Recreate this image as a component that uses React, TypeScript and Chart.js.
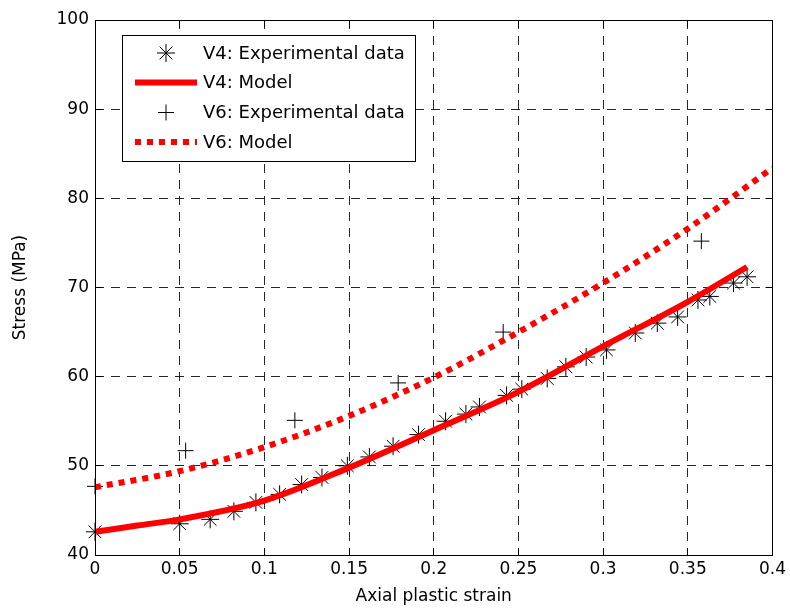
import React, { useEffect, useRef } from 'react';
import { Chart, registerables } from 'chart.js';

Chart.register(...registerables);

// ---------------- data ----------------
const V4_EXP_X = [0, 0.050, 0.068, 0.082, 0.095, 0.109, 0.122, 0.134, 0.149, 0.162, 0.176, 0.191, 0.207, 0.219, 0.227, 0.243, 0.252, 0.267, 0.278, 0.290, 0.302, 0.319, 0.332, 0.344, 0.356, 0.363, 0.377, 0.385];
const V4_EXP_Y = [42.6, 43.5, 44.0, 44.9, 45.9, 46.8, 47.9, 48.7, 50.0, 51.0, 52.2, 53.5, 55.0, 55.8, 56.6, 57.9, 58.6, 59.8, 61.1, 62.2, 63.0, 64.9, 66.0, 66.7, 68.6, 69.0, 70.5, 71.2];

const V6_EXP_X = [0, 0.0535, 0.118, 0.179, 0.241, 0.358];
const V6_EXP_Y = [47.7, 51.7, 55.1, 59.3, 65.0, 75.2];

const V4_MODEL_X = [0, 0.025, 0.05, 0.1, 0.15, 0.2, 0.25, 0.3, 0.35, 0.385];
const V4_MODEL_Y = [42.6, 43.3, 44.0, 46.1, 49.8, 54.0, 58.3, 63.4, 68.4, 72.3];

const V6_MODEL_X = [0, 0.05, 0.1, 0.15, 0.2, 0.25, 0.3, 0.35, 0.4];
const V6_MODEL_Y = [47.6, 49.4, 52.1, 55.6, 59.9, 65.0, 70.5, 76.6, 83.4];

const X_TICKS = [0, 0.05, 0.1, 0.15, 0.2, 0.25, 0.3, 0.35, 0.4];
const X_TICK_LABELS = ['0', '0.05', '0.1', '0.15', '0.2', '0.25', '0.3', '0.35', '0.4'];
const Y_TICKS = [40, 50, 60, 70, 80, 90, 100];
const Y_TICK_LABELS = ['40', '50', '60', '70', '80', '90', '100'];

const SERIES_LABELS = ['V4: Experimental data', 'V4: Model', 'V6: Experimental data', 'V6: Model'];
const X_TITLE = 'Axial plastic strain';
const Y_TITLE = 'Stress (MPa)';

const FONT = 'DejaVu Sans';
const RED = '#ff0000';

const zip = (xs: number[], ys: number[]) => xs.map((x, i) => ({ x, y: ys[i] }));

function drawMarker(ctx: CanvasRenderingContext2D, style: string, x: number, y: number, r: number) {
  ctx.beginPath();
  ctx.moveTo(x - r, y); ctx.lineTo(x + r, y);
  ctx.moveTo(x, y - r); ctx.lineTo(x, y + r);
  if (style === 'star') {
    const d = r * Math.SQRT1_2;
    ctx.moveTo(x - d, y - d); ctx.lineTo(x + d, y + d);
    ctx.moveTo(x - d, y + d); ctx.lineTo(x + d, y - d);
  }
  ctx.stroke();
}

const framePlugin = {
  id: 'frameAndLegend',
  afterDraw(chart: any) {
    const { ctx, chartArea: a, scales } = chart;
    ctx.save();
    ctx.setLineDash([]);
    ctx.strokeStyle = '#000';
    ctx.lineWidth = 1;
    const L = Math.floor(a.left) + 0.5;
    const R = Math.floor(a.right) + 0.5;
    const T = Math.floor(a.top) + 0.5;
    const B = Math.floor(a.bottom) + 0.5;
    ctx.strokeRect(L, T, R - L, B - T);
    const tl = 7;
    ctx.beginPath();
    X_TICKS.forEach((v) => {
      const px = Math.floor(scales.x.getPixelForValue(v)) + 0.5;
      ctx.moveTo(px, B); ctx.lineTo(px, B - tl);
      ctx.moveTo(px, T); ctx.lineTo(px, T + tl);
    });
    Y_TICKS.forEach((v) => {
      const py = Math.floor(scales.y.getPixelForValue(v)) + 0.5;
      ctx.moveTo(L, py); ctx.lineTo(L + tl, py);
      ctx.moveTo(R, py); ctx.lineTo(R - tl, py);
    });
    ctx.stroke();

    // legend
    const bx = 122.5, by = 35.5, bw = 293, bh = 126;
    ctx.fillStyle = '#fff';
    ctx.fillRect(bx, by, bw, bh);
    ctx.strokeStyle = '#000';
    ctx.lineWidth = 1;
    ctx.strokeRect(bx, by, bw, bh);
    const rows = [53, 82.5, 112.5, 142];
    const mx = 166, lx0 = 135, lx1 = 197, tx = 203;
    ctx.font = `18px "${FONT}"`;
    ctx.textBaseline = 'middle';
    ctx.textAlign = 'left';
    SERIES_LABELS.forEach((label, i) => {
      const y = rows[i];
      ctx.save();
      if (i === 0 || i === 2) {
        ctx.strokeStyle = '#000';
        ctx.lineWidth = 1;
        drawMarker(ctx, i === 0 ? 'star' : 'cross', mx, y, i === 0 ? 9 : 8);
      } else {
        ctx.strokeStyle = RED;
        ctx.lineWidth = 6;
        ctx.lineCap = 'butt';
        ctx.setLineDash(i === 3 ? [6, 6] : []);
        ctx.beginPath();
        ctx.moveTo(lx0, y); ctx.lineTo(lx1, y);
        ctx.stroke();
      }
      ctx.restore();
      ctx.fillStyle = '#000';
      ctx.fillText(label, tx, y + 1);
    });
    ctx.restore();
  },
};

export default function App() {
  const ref = useRef<HTMLCanvasElement>(null);
  useEffect(() => {
    if (!ref.current) return;
    Chart.defaults.font.family = FONT;
    Chart.defaults.color = '#000';
    const chart = new Chart(ref.current, {
      type: 'scatter',
      data: {
        datasets: [
          {
            label: SERIES_LABELS[0],
            data: zip(V4_EXP_X, V4_EXP_Y),
            pointStyle: 'star',
            pointRadius: 9,
            pointBorderWidth: 1,
            pointBorderColor: '#000',
            pointBackgroundColor: 'rgba(0,0,0,0)',
            showLine: false,
            clip: false,
            order: 4,
          } as any,
          {
            label: SERIES_LABELS[1],
            data: zip(V4_MODEL_X, V4_MODEL_Y),
            showLine: true,
            borderColor: RED,
            borderWidth: 6,
            pointRadius: 0,
            cubicInterpolationMode: 'monotone',
            order: 3,
          },
          {
            label: SERIES_LABELS[2],
            data: zip(V6_EXP_X, V6_EXP_Y),
            pointStyle: 'cross',
            pointRadius: 8,
            pointBorderWidth: 1,
            pointBorderColor: '#000',
            pointBackgroundColor: 'rgba(0,0,0,0)',
            showLine: false,
            clip: false,
            order: 2,
          } as any,
          {
            label: SERIES_LABELS[3],
            data: zip(V6_MODEL_X, V6_MODEL_Y),
            showLine: true,
            borderColor: RED,
            borderWidth: 6,
            borderDash: [6, 6],
            borderCapStyle: 'butt',
            pointRadius: 0,
            cubicInterpolationMode: 'monotone',
            order: 1,
          },
        ],
      },
      options: {
        responsive: false,
        animation: false,
        devicePixelRatio: 1,
        layout: { padding: { left: 0, right: 15, top: 20, bottom: 0 } },
        plugins: {
          legend: { display: false },
          tooltip: { enabled: false },
        },
        scales: {
          x: {
            type: 'linear',
            min: 0,
            max: 0.4,
            afterBuildTicks: (s: any) => { s.ticks = X_TICKS.map((v) => ({ value: v })); },
            afterFit: (s: any) => { s.height = 55; },
            ticks: {
              padding: 4,
              maxRotation: 0,
              autoSkip: false,
              font: { size: 17, family: FONT },
              color: '#000',
              callback: (_v: any, i: number) => X_TICK_LABELS[i],
            },
            grid: { color: 'rgba(0,0,0,0.85)', lineWidth: 1, drawTicks: false },
            border: { display: false, dash: [9, 7] },
            title: {
              display: true,
              text: X_TITLE,
              color: '#000',
              font: { size: 17, family: FONT },
              padding: { top: 0, bottom: 3 },
            },
          },
          y: {
            type: 'linear',
            min: 40,
            max: 100,
            afterBuildTicks: (s: any) => { s.ticks = Y_TICKS.map((v) => ({ value: v })); },
            afterFit: (s: any) => { s.width = 95; },
            ticks: {
              padding: 6,
              autoSkip: false,
              font: { size: 17, family: FONT },
              color: '#000',
              callback: (_v: any, i: number) => Y_TICK_LABELS[i],
            },
            grid: { color: 'rgba(0,0,0,0.85)', lineWidth: 1, drawTicks: false },
            border: { display: false, dash: [9, 7] },
            title: {
              display: true,
              text: Y_TITLE,
              color: '#000',
              font: { size: 17, family: FONT },
              padding: { top: 10, bottom: 0 },
            },
          },
        },
      },
      plugins: [framePlugin],
    });
    return () => chart.destroy();
  }, []);
  return (
    <div style={{ position: 'absolute', left: 0, top: 0, width: 790, height: 610, background: '#fff' }}>
      <canvas ref={ref} width={790} height={610} style={{ display: 'block', width: 790, height: 610 }} />
    </div>
  );
}
